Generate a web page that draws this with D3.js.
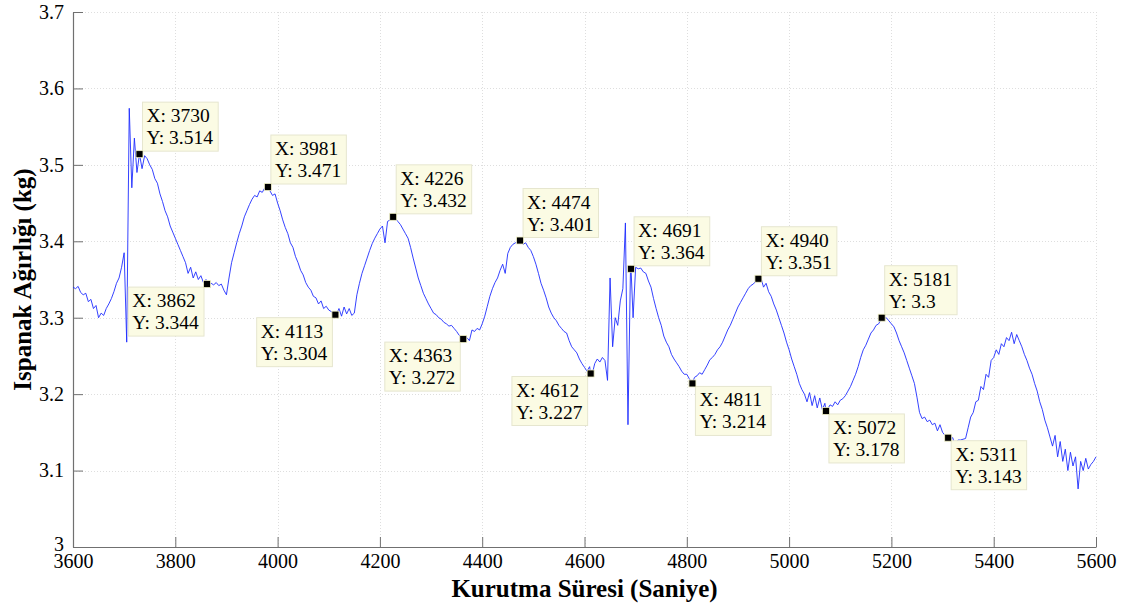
<!DOCTYPE html>
<html>
<head>
<meta charset="utf-8">
<script src="https://cdn.jsdelivr.net/npm/d3@7"></script>
<style>
  body { margin: 0; background: #fff; }
  svg { display: block; }
</style>
</head>
<body>
<svg id="chart" width="1130" height="607"></svg>
<script>
// Spinach weight during drying, sampled every 5 seconds from 3600 s to 5600 s
const sampleStart = 3600;
const sampleStep = 5;
const weight = [
  // 3600 - 3695
  3.340, 3.338, 3.341, 3.333, 3.330, 3.332, 3.321, 3.324, 3.312, 3.316, 3.300, 3.306, 3.303, 3.312, 3.318, 3.325, 3.334, 3.345, 3.352, 3.366,
  // 3700 - 3795
  3.385, 3.268, 3.574, 3.470, 3.535, 3.490, 3.514, 3.495, 3.512, 3.508, 3.500, 3.494, 3.482, 3.476, 3.462, 3.452, 3.440, 3.432, 3.420, 3.412,
  // 3800 - 3895
  3.404, 3.396, 3.388, 3.380, 3.372, 3.358, 3.366, 3.352, 3.360, 3.350, 3.355, 3.346, 3.350, 3.342, 3.345, 3.343, 3.346, 3.342, 3.344, 3.336,
  // 3900 - 3995
  3.330, 3.352, 3.372, 3.385, 3.398, 3.410, 3.420, 3.432, 3.440, 3.448, 3.455, 3.460, 3.458, 3.466, 3.464, 3.470, 3.468, 3.466, 3.460, 3.462,
  // 4000 - 4095
  3.450, 3.440, 3.428, 3.418, 3.410, 3.398, 3.392, 3.380, 3.372, 3.362, 3.356, 3.346, 3.340, 3.336, 3.328, 3.326, 3.318, 3.322, 3.312, 3.315,
  // 4100 - 4195
  3.310, 3.308, 3.306, 3.304, 3.312, 3.302, 3.314, 3.305, 3.312, 3.303, 3.306, 3.330, 3.345, 3.358, 3.368, 3.378, 3.388, 3.397, 3.404, 3.410,
  // 4200 - 4295
  3.416, 3.420, 3.398, 3.426, 3.428, 3.432, 3.430, 3.426, 3.422, 3.416, 3.410, 3.404, 3.392, 3.378, 3.365, 3.352, 3.342, 3.332, 3.325, 3.318,
  // 4300 - 4395
  3.312, 3.306, 3.304, 3.300, 3.298, 3.294, 3.292, 3.289, 3.290, 3.286, 3.282, 3.277, 3.274, 3.272, 3.274, 3.270, 3.284, 3.282, 3.286, 3.284,
  // 4400 - 4495
  3.292, 3.302, 3.315, 3.328, 3.338, 3.346, 3.352, 3.362, 3.370, 3.358, 3.384, 3.392, 3.396, 3.398, 3.400, 3.401, 3.396, 3.398, 3.392, 3.388,
  // 4500 - 4595
  3.380, 3.370, 3.358, 3.345, 3.336, 3.326, 3.314, 3.306, 3.300, 3.296, 3.290, 3.286, 3.282, 3.280, 3.270, 3.262, 3.258, 3.254, 3.246, 3.240,
  // 4600 - 4695
  3.235, 3.230, 3.236, 3.226, 3.240, 3.246, 3.242, 3.248, 3.244, 3.218, 3.352, 3.262, 3.300, 3.290, 3.322, 3.338, 3.424, 3.160, 3.368, 3.300,
  // 4700 - 4795
  3.366, 3.364, 3.365, 3.360, 3.358, 3.348, 3.340, 3.325, 3.312, 3.300, 3.290, 3.276, 3.268, 3.262, 3.252, 3.246, 3.241, 3.236, 3.230, 3.226,
  // 4800 - 4895
  3.226, 3.220, 3.215, 3.222, 3.224, 3.228, 3.226, 3.232, 3.238, 3.245, 3.248, 3.252, 3.258, 3.262, 3.268, 3.276, 3.284, 3.290, 3.298, 3.306,
  // 4900 - 4995
  3.314, 3.320, 3.326, 3.332, 3.338, 3.342, 3.344, 3.348, 3.351, 3.352, 3.340, 3.345, 3.334, 3.328, 3.318, 3.310, 3.300, 3.290, 3.280, 3.268,
  // 5000 - 5095
  3.258, 3.246, 3.236, 3.226, 3.214, 3.206, 3.200, 3.190, 3.202, 3.185, 3.198, 3.182, 3.195, 3.180, 3.188, 3.180, 3.186, 3.184, 3.190, 3.186,
  // 5100 - 5195
  3.192, 3.194, 3.198, 3.204, 3.210, 3.218, 3.226, 3.236, 3.248, 3.258, 3.264, 3.272, 3.280, 3.284, 3.290, 3.292, 3.298, 3.299, 3.300, 3.296,
  // 5200 - 5295
  3.292, 3.288, 3.280, 3.270, 3.262, 3.254, 3.244, 3.234, 3.224, 3.214, 3.196, 3.176, 3.168, 3.170, 3.164, 3.166, 3.160, 3.162, 3.152, 3.160,
  // 5300 - 5395
  3.150, 3.146, 3.144, 3.142, 3.143, 3.130, 3.140, 3.140, 3.141, 3.142, 3.156, 3.170, 3.176, 3.190, 3.192, 3.210, 3.206, 3.226, 3.222, 3.244,
  // 5400 - 5495
  3.248, 3.258, 3.252, 3.266, 3.262, 3.274, 3.270, 3.281, 3.266, 3.278, 3.270, 3.262, 3.252, 3.244, 3.234, 3.226, 3.214, 3.204, 3.190, 3.180,
  // 5500 - 5600
  3.166, 3.156, 3.144, 3.132, 3.146, 3.118, 3.138, 3.112, 3.128, 3.100, 3.124, 3.106, 3.118, 3.076, 3.112, 3.100, 3.116, 3.102, 3.108, 3.112,
  3.118
];

// Marked extrema (data tips)
const tipTime   = [3730, 3862, 3981, 4113, 4226, 4363, 4474, 4612, 4691, 4811, 4940, 5072, 5181, 5311];
const tipWeight = [3.514, 3.344, 3.471, 3.304, 3.432, 3.272, 3.401, 3.227, 3.364, 3.214, 3.351, 3.178, 3.3, 3.143];
// Which corner of the marker each tip box hangs from
const tipPlacement = ["ne", "sw", "ne", "sw", "ne", "sw", "ne", "sw", "ne", "se", "ne", "se", "ne", "se"];

const xDomain = [3600, 5600];
const yDomain = [3, 3.7];
const xTickValues = [3600, 3800, 4000, 4200, 4400, 4600, 4800, 5000, 5200, 5400, 5600];
const yTickValues = [3, 3.1, 3.2, 3.3, 3.4, 3.5, 3.6, 3.7];
const yTickLabels = ["3", "3.1", "3.2", "3.3", "3.4", "3.5", "3.6", "3.7"];

const xTitle = "Kurutma Süresi (Saniye)";
const yTitle = "Ispanak Ağırlığı (kg)";

// ---- layout ----
const serif = "Liberation Serif";
const plot = { left: 73, right: 1096, top: 12, bottom: 547 };
const svg = d3.select("#chart");

const x = d3.scaleLinear().domain(xDomain).range([plot.left, plot.right]);
const y = d3.scaleLinear().domain(yDomain).range([plot.bottom, plot.top]);

// series: regular samples merged with the data-tip samples
const series = weight.map((w, i) => ({ t: sampleStart + i * sampleStep, w }));
tipTime.forEach((t, i) => {
  if (!series.some(d => d.t === t)) series.push({ t, w: tipWeight[i] });
});
series.sort((a, b) => a.t - b.t);

// grid
const grid = svg.append("g").attr("class", "grid")
  .attr("stroke", "#dedede").attr("stroke-width", 1).attr("stroke-dasharray", "1,2");
grid.selectAll("line.gx").data(xTickValues.filter(v => v !== xDomain[0])).join("line")
  .attr("x1", d => Math.round(x(d)) + 0.5).attr("x2", d => Math.round(x(d)) + 0.5)
  .attr("y1", plot.top).attr("y2", plot.bottom);
grid.selectAll("line.gy").data(yTickValues.filter(v => v !== yDomain[0])).join("line")
  .attr("y1", d => Math.round(y(d)) + 0.5).attr("y2", d => Math.round(y(d)) + 0.5)
  .attr("x1", plot.left).attr("x2", plot.right);

// axes (ticks pointing inward)
const xAxis = d3.axisBottom(x).tickValues(xTickValues).tickSizeInner(-10).tickSizeOuter(0)
  .tickPadding(7).tickFormat(d3.format("d"));
const yAxis = d3.axisLeft(y).tickValues(yTickValues).tickSizeInner(-10).tickSizeOuter(0)
  .tickPadding(9).tickFormat((d, i) => yTickLabels[i]);

const gx = svg.append("g").attr("transform", `translate(0,${plot.bottom})`).call(xAxis);
const gy = svg.append("g").attr("transform", `translate(${plot.left},0)`).call(yAxis);
[gx, gy].forEach(g => {
  g.attr("font-family", serif).attr("font-size", 20);
  g.select(".domain").attr("stroke", "#707070").attr("stroke-width", 1.2);
  g.selectAll(".tick line").attr("stroke", "#707070").attr("stroke-width", 1);
  g.selectAll(".tick text").attr("font-size", 20).attr("font-family", serif).attr("fill", "#000");
});
gy.selectAll(".tick text").attr("dy", (d, i) => i === 0 ? "0.18em" : "0.32em");

// weight curve
const line = d3.line().x(d => x(d.t)).y(d => y(d.w));
svg.append("path").datum(series)
  .attr("fill", "none").attr("stroke", "#1e2cff").attr("stroke-width", 0.9)
  .attr("stroke-linejoin", "round").attr("d", line);

// data tips
const tips = tipTime.map((t, i) => ({ t, w: tipWeight[i], place: tipPlacement[i] }));
const tipG = svg.append("g").attr("class", "tips");
const fmt = v => String(+v.toFixed(3));
tips.forEach(d => {
  const mx = x(d.t), my = y(d.w);
  const g = tipG.append("g");
  const rect = g.append("rect").attr("fill", "#fbfbe4").attr("stroke", "#e6e6cf").attr("stroke-width", 1);
  const txt = g.append("text").attr("font-size", 19.5).attr("font-family", serif).attr("fill", "#000");
  txt.append("tspan").attr("x", 0).attr("y", 0).text(`X: ${d.t}`);
  txt.append("tspan").attr("x", 0).attr("y", 22).text(`Y: ${fmt(d.w)}`);
  const bb = txt.node().getBBox();
  const padL = 4, padR = 5, padT = 3, padB = 3;
  const bw = bb.width + padL + padR, bh = bb.height + padT + padB;
  let bx, by;
  if (d.place === "ne") { bx = mx + 3; by = my - 3 - bh; }
  else if (d.place === "sw") { bx = mx - 3 - bw; by = my + 3; }
  else { bx = mx + 3; by = my + 3; }
  rect.attr("x", bx).attr("y", by).attr("width", bw).attr("height", bh);
  txt.attr("transform", `translate(${bx + padL - bb.x},${by + padT - bb.y})`);
  g.append("rect").attr("x", mx - 3.5).attr("y", my - 3.5).attr("width", 7).attr("height", 7)
    .attr("fill", "#000").attr("stroke", "#f2f2c8").attr("stroke-width", 0.8);
});

// axis titles
svg.append("text").attr("x", (plot.left + plot.right) / 2).attr("y", 597)
  .attr("text-anchor", "middle").attr("font-family", serif).attr("fill", "#000")
  .attr("font-size", 25).attr("font-weight", "bold").text(xTitle);
svg.append("text").attr("transform", `translate(31,${(plot.top + plot.bottom) / 2}) rotate(-90)`)
  .attr("text-anchor", "middle").attr("font-family", serif).attr("fill", "#000")
  .attr("font-size", 25).attr("font-weight", "bold").text(yTitle);
</script>
</body>
</html>
